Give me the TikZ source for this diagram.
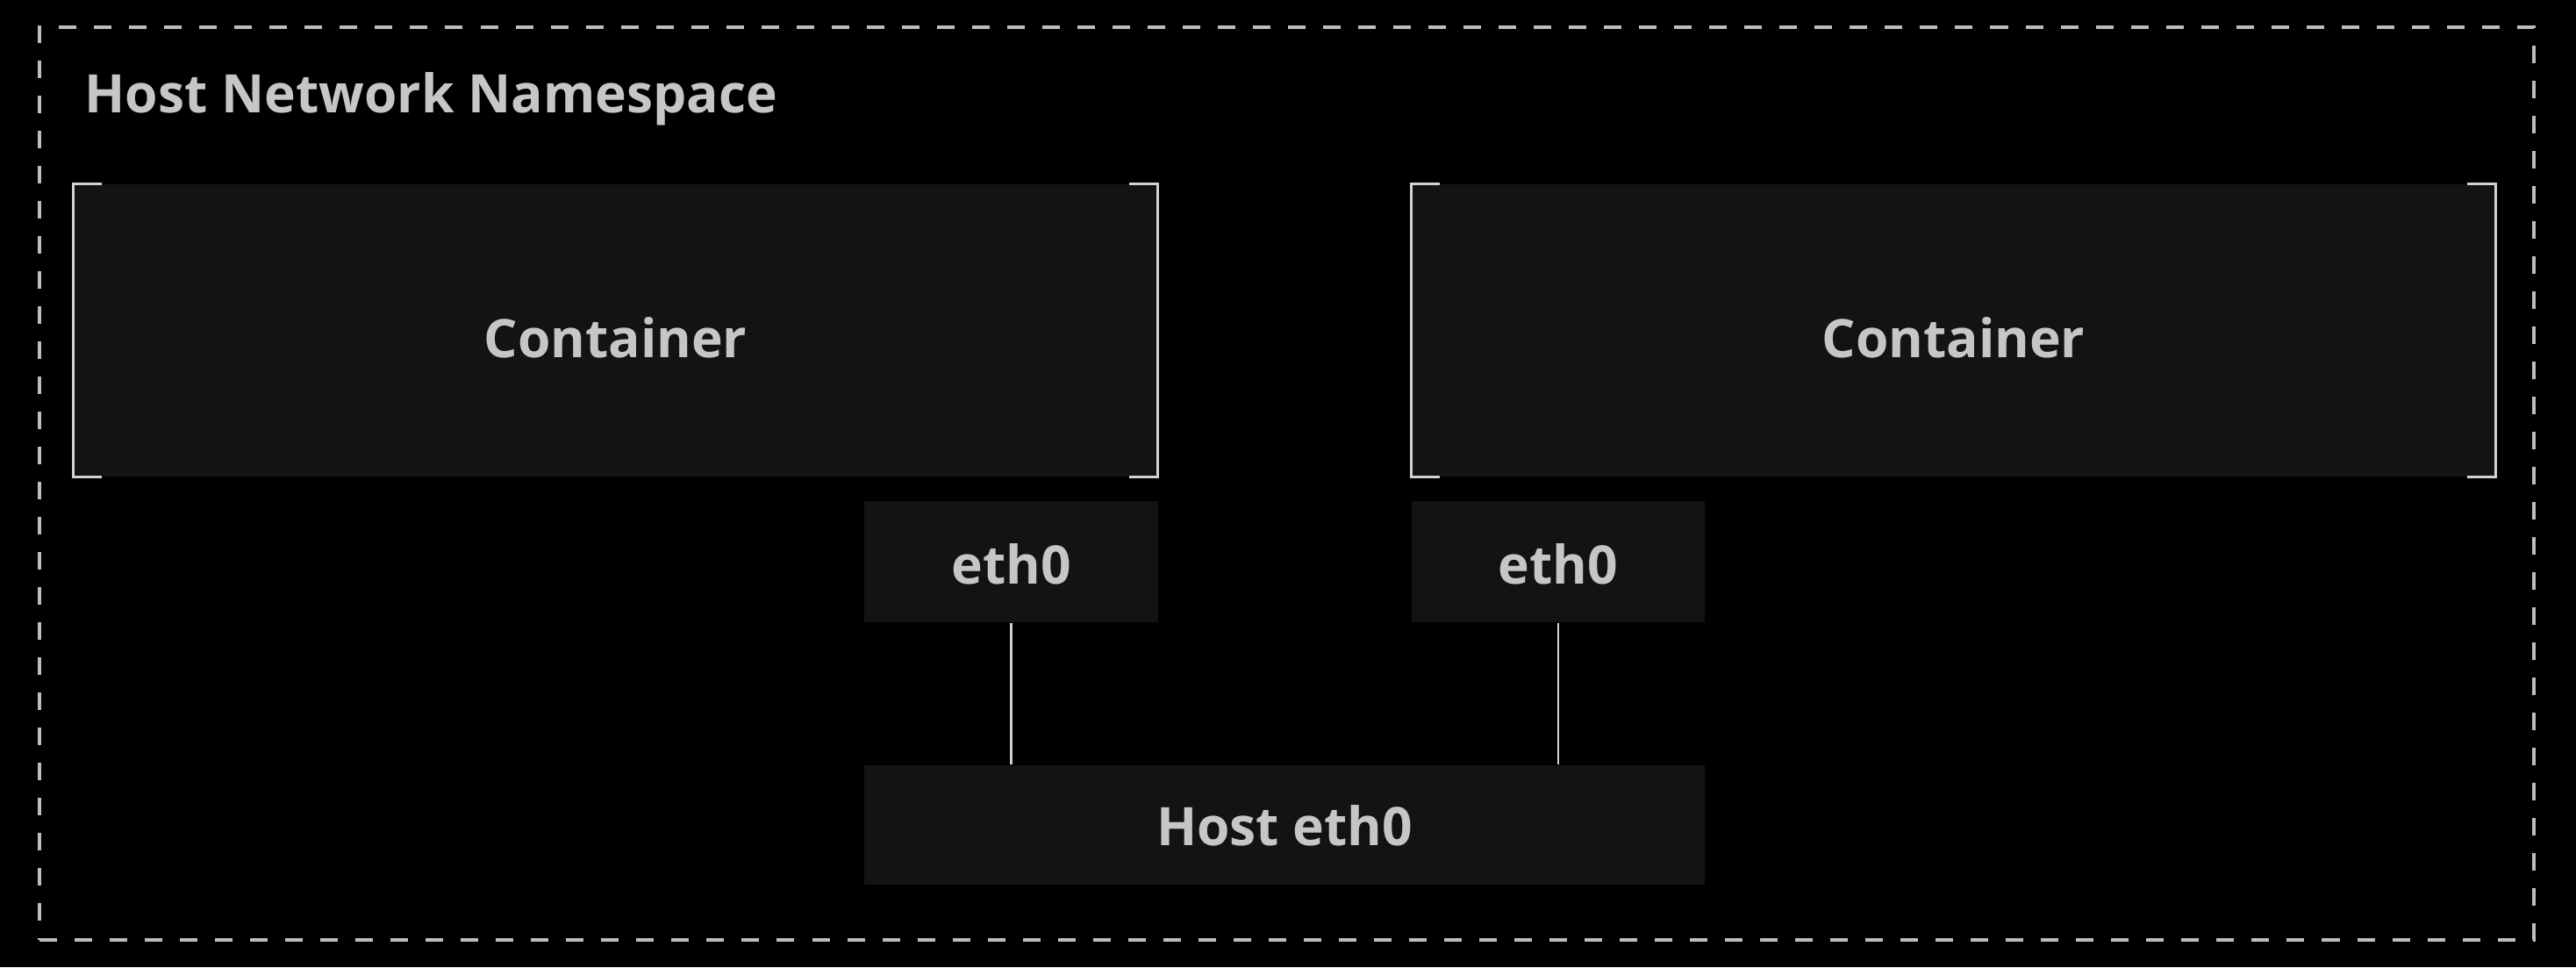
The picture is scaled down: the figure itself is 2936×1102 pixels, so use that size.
\documentclass[tikz,border=0pt]{standalone}
\usepackage{fontspec}
\setmainfont{Open Sans}
\usetikzlibrary{fit,calc}
\definecolor{bg}{HTML}{000000}
\definecolor{boxfill}{HTML}{131313}
\definecolor{txt}{HTML}{C6C6C6}
\definecolor{brk}{HTML}{D2D2D2}
\definecolor{dsh}{HTML}{BDBDBD}
\tikzset{
  boxnode/.style={fill=boxfill, draw=none, inner sep=0pt},
  lbl/.style={text=txt, inner sep=0pt, font=\fontsize{17.2}{21}\selectfont\bfseries},
  bracket/.style={draw=brk, line width=0.9pt, line cap=rect},
  outerbox/.style={draw=dsh, line width=1.4pt, dash pattern=on 0.2cm off 0.2cm},
  wire/.style={draw=brk, line width=0.8pt}
}
\begin{document}
\begin{tikzpicture}[x=0.01cm,y=-0.01cm]
\fill[bg] (0,0) rectangle (2936,1102);
\useasboundingbox (0,0) rectangle (2936,1102);
\node[fit={(45,31) (2888,1071)}, inner sep=0pt, outerbox] (ns) {};
\node[lbl, anchor=base west] (title) at (96,128) {Host Network Namespace};
% containers
\node[boxnode, fit={(84,210) (1319,543)}] (c1) {};
\node[boxnode, fit={(1609,210) (2844,543)}] (c2) {};
\foreach \c in {c1,c2}{
  \draw[bracket] ($(\c.north west)+(31,0)$) -- (\c.north west) -- (\c.south west) -- ++(31,0);
  \draw[bracket] ($(\c.north east)+(-31,0)$) -- (\c.north east) -- (\c.south east) -- ++(-31,0);
}
\node[lbl, anchor=base] (t1) at ($(c1.center)+(0,31)$) {Container};
\node[lbl, anchor=base] (t2) at ($(c2.center)+(0,31)$) {Container};
% interfaces
\node[boxnode, fit={(985,571) (1320,709)}] (e1) {};
\node[boxnode, fit={(1609,571) (1943,709)}] (e2) {};
\node[boxnode, fit={(985,872) (1943,1008)}] (host) {};
\node[lbl, anchor=base] (te1) at ($(e1.center)+(0,25)$) {eth0};
\node[lbl, anchor=base] (te2) at ($(e2.center)+(0,25)$) {eth0};
\node[lbl, anchor=base] (th) at ($(host.center)+(0,23)$) {Host eth0};
\draw[wire] (e1.south) -- (e1.south |- host.north);
\draw[wire] (e2.south) -- (e2.south |- host.north);
\end{tikzpicture}
\end{document}
